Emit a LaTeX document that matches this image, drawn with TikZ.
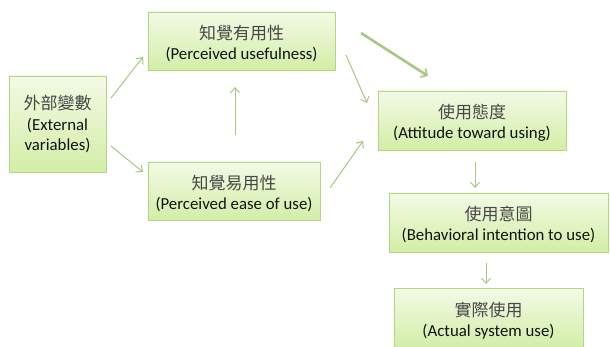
\documentclass[tikz,border=0pt]{standalone}
\usepackage{fontspec}
\setmainfont{Carlito}
\newfontfamily\cjk{Noto Sans CJK TC}
\usetikzlibrary{arrows.meta,shadows}
\definecolor{boxtop}{HTML}{F3FAE6}
\definecolor{boxbot}{HTML}{D2EEA6}
\definecolor{boxline}{HTML}{B5D489}
\definecolor{arr}{HTML}{A9C684}
\definecolor{cjktext}{HTML}{474747}
\definecolor{entext}{HTML}{111111}
\tikzset{
  tambox/.style={draw=boxline, line width=0.8pt, top color=boxtop, bottom color=boxbot,
    drop shadow={shadow xshift=1.2pt, shadow yshift=-1.5pt, fill=black!30, opacity=0.6},
    align=center, inner sep=0pt, text=entext, font=\fontsize{16.8}{20.5}\selectfont},
  conn/.style={draw=arr, line width=1pt, -{Straight Barb[length=5pt,width=9pt]}},
  bigconn/.style={draw=arr, line width=2.6pt, -{Straight Barb[length=5pt,width=10pt,line width=1.6pt]}}
}
\newcommand{\zhline}[1]{{\cjk\fontsize{17}{20.5}\selectfont\color{cjktext}#1}}
\newcommand{\twolines}[2]{\raisebox{-4pt}[\height][\depth]{\begin{tabular}{@{}c@{}}\zhline{#1}\\[-0.5pt]#2\end{tabular}}}
\begin{document}
\begin{tikzpicture}[x=1pt,y=-1pt]
\useasboundingbox (0,0) rectangle (610,347);
\fill[white] (0,0) rectangle (610,347);
\node[tambox, minimum width=97pt, minimum height=96pt] (ext) at (57.5,124)
  {\zhline{外部變數}\\(External\\variables)};
\node[tambox, minimum width=187pt, minimum height=58pt] (pu) at (241.5,41)
  {\twolines{知覺有用性}{(Perceived usefulness)}};
\node[tambox, minimum width=172pt, minimum height=58pt] (peou) at (234,191)
  {\twolines{知覺易用性}{(Perceived ease of use)}};
\node[tambox, minimum width=188pt, minimum height=59pt] (att) at (472,120.5)
  {\twolines{使用態度}{(Attitude toward using)}};
\node[tambox, minimum width=219pt, minimum height=59pt] (bi) at (498.5,222.5)
  {\twolines{使用意圖}{(Behavioral intention to use)}};
\node[tambox, minimum width=189pt, minimum height=60pt] (act) at (488.5,318)
  {\twolines{實際使用}{(Actual system use)}};
% connector end points
\coordinate (e1) at (111,98);  \coordinate (p1) at (143,57);
\coordinate (e2) at (111,146); \coordinate (p2) at (143,172);
\coordinate (q1) at (235,135); \coordinate (q2) at (235,87);
\coordinate (u1) at (346,55);  \coordinate (a1) at (367,103);
\coordinate (v1) at (330,188); \coordinate (a2) at (363,141);
\coordinate (t1) at (361,33);  \coordinate (a3) at (428,76);
\coordinate (b1) at (475,162); \coordinate (b2) at (475,188);
\coordinate (c1) at (486,263); \coordinate (c2) at (486,284);
\draw[conn] (e1) -- (p1);
\draw[conn] (e2) -- (p2);
\draw[conn] (q1) -- (q2);
\draw[conn] (u1) -- (a1);
\draw[conn] (v1) -- (a2);
\draw[bigconn] (t1) -- (a3);
\draw[conn] (b1) -- (b2);
\draw[conn] (c1) -- (c2);
\end{tikzpicture}
\end{document}
